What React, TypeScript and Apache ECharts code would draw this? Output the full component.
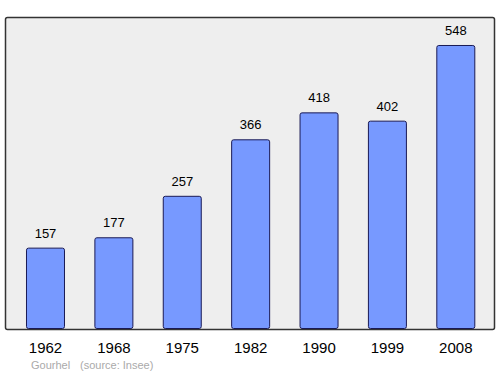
import React, { useEffect, useRef } from "react";
import * as echarts from "echarts";

const years = ["1962", "1968", "1975", "1982", "1990", "1999", "2008"];
const population = [157, 177, 257, 366, 418, 402, 548];

export default function App() {
  const ref = useRef<HTMLDivElement>(null);
  useEffect(() => {
    const chart = echarts.init(ref.current!, undefined, { renderer: "svg" });
    const font = "Liberation Sans, Arial, sans-serif";
    chart.setOption({
      animation: false,
      graphic: [
        {
          type: "rect",
          shape: { x: 5.5, y: 17.5, width: 489, height: 312, r: 2 },
          style: { fill: "#eeeeee", stroke: "#333333", lineWidth: 1.5 },
          z: -10,
        },
        {
          type: "text",
          left: 31,
          top: 359,
          style: { text: "Gourhel", fill: "#aaaaaa", fontSize: 11, fontFamily: font },
        },
        {
          type: "text",
          left: 80,
          top: 359,
          style: { text: "(source: Insee)", fill: "#aaaaaa", fontSize: 11, fontFamily: font },
        },
      ],
      grid: { left: 11.3, right: 10, top: 17, bottom: 45 },
      xAxis: {
        type: "category",
        data: years,
        axisLine: { show: false },
        axisTick: { show: false },
        axisLabel: { color: "#000", fontSize: 15, fontFamily: font, margin: 11 },
      },
      yAxis: {
        type: "value",
        min: 0,
        max: 602,
        show: false,
        splitLine: { show: false },
      },
      series: [
        {
          type: "bar",
          data: population,
          barWidth: 39,
          itemStyle: { color: "#7799ff", borderColor: "#1a1a55", borderWidth: 1, borderRadius: 2 },
          label: {
            show: true,
            position: "top",
            distance: 8,
            color: "#000",
            fontSize: 13,
            fontFamily: font,
          },
        },
      ],
    });
    return () => chart.dispose();
  }, []);
  return <div ref={ref} style={{ width: 500, height: 374, position: "absolute", left: 0, top: 0 }} />;
}
